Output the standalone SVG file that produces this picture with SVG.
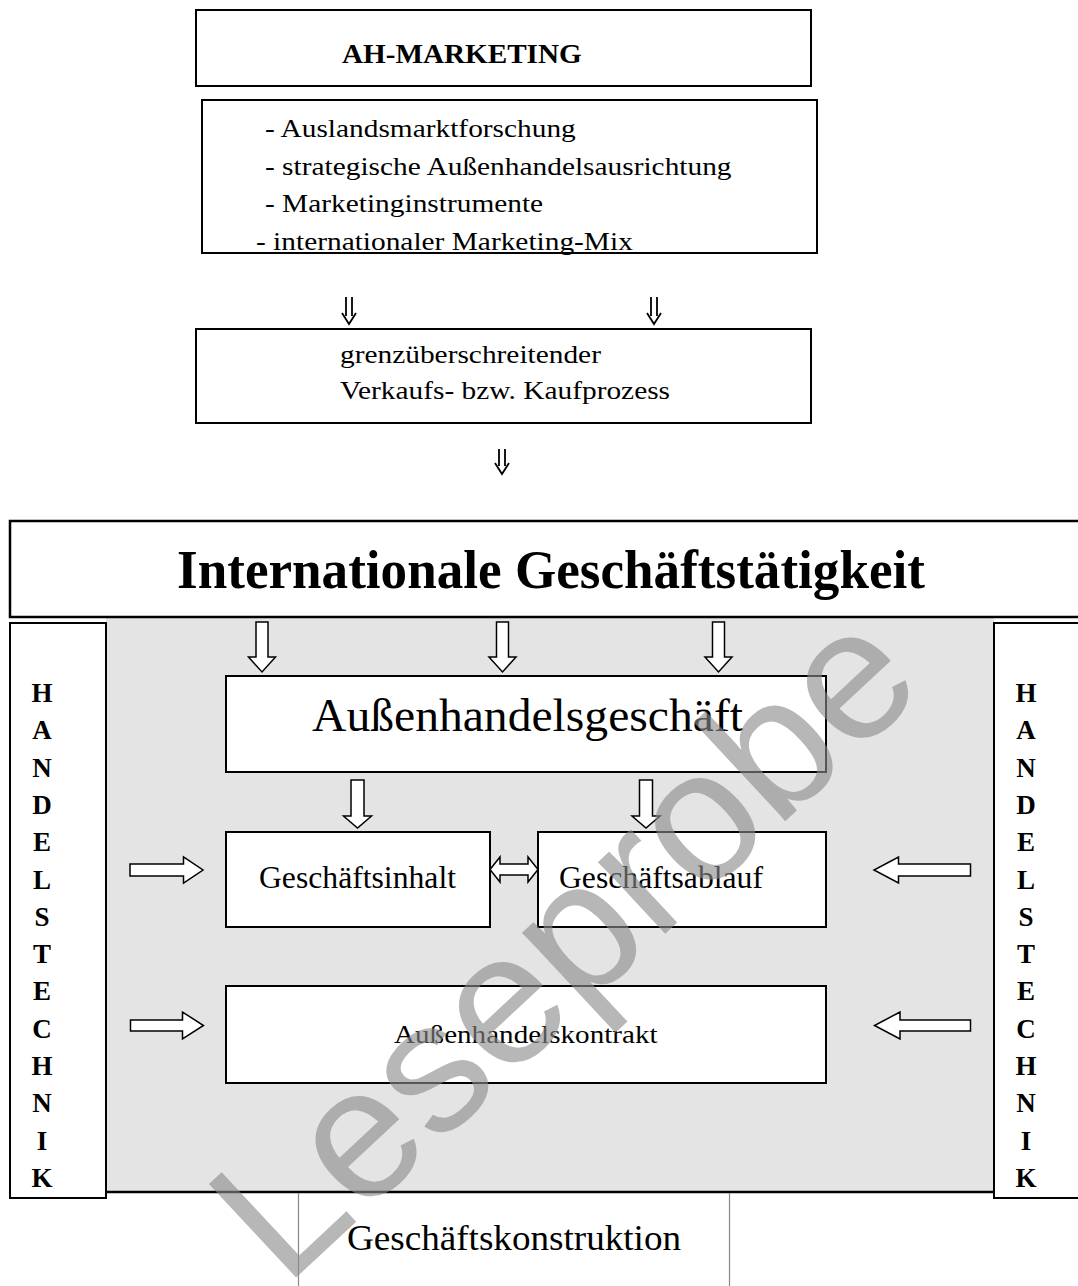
<svg xmlns="http://www.w3.org/2000/svg" width="1078" height="1286" viewBox="0 0 1078 1286">
<style>
.box{fill:#fff;stroke:#000;stroke-width:2}
.t{font-family:"Liberation Serif","Times New Roman",serif;fill:#000}
.b{font-weight:bold}
.harrow{fill:#fff;stroke:#000;stroke-width:1.5;stroke-linejoin:miter}
.dbl{fill:none;stroke:#000;stroke-width:1.8}
.side{font-family:"Liberation Serif","Times New Roman",serif;font-weight:bold;font-size:27px;text-anchor:middle}
</style>
<rect width="1078" height="1286" fill="#fff"/>

<g id="ah-marketing">
<rect class="box" x="196" y="10" width="615" height="76" stroke-width="2.5"/>
<text class="t b" transform="translate(342 63) scale(1.08 1)" font-size="27">AH-MARKETING</text>
</g>

<g id="marketing-list">
<rect class="box" x="202" y="100" width="615" height="153"/>
<text class="t" transform="translate(265 137) scale(1.13 1)" font-size="26">- Auslandsmarktforschung</text>
<text class="t" transform="translate(265 175) scale(1.13 1)" font-size="26">- strategische Außenhandelsausrichtung</text>
<text class="t" transform="translate(265 212) scale(1.13 1)" font-size="26">- Marketinginstrumente</text>
<text class="t" transform="translate(256 250) scale(1.13 1)" font-size="26">- internationaler Marketing-Mix</text>
</g>

<g id="prozess">
<rect class="box" x="196" y="329" width="615" height="94"/>
<text class="t" transform="translate(340 363) scale(1.13 1)" font-size="26">grenzüberschreitender</text>
<text class="t" transform="translate(340 399) scale(1.13 1)" font-size="26">Verkaufs- bzw. Kaufprozess</text>
</g>

<g id="geschaeftstaetigkeit">
<rect x="106" y="617" width="888" height="575" fill="#e4e4e4"/>
<path d="M1090 521 H10 V617 H1090" fill="none" stroke="#000" stroke-width="2.5"/>
<line x1="106" y1="1192" x2="995" y2="1192" stroke="#000" stroke-width="2.5"/>
<text class="t b" x="551" y="588" font-size="54" text-anchor="middle" textLength="748" lengthAdjust="spacingAndGlyphs">Internationale Geschäftstätigkeit</text>
</g>

<g id="handelstechnik-links">
<rect class="box" x="10" y="623" width="96" height="575"/>
<text class="side" x="42" y="702"><tspan x="42" y="702">H</tspan><tspan x="42" y="739.3">A</tspan><tspan x="42" y="776.6">N</tspan><tspan x="42" y="813.9">D</tspan><tspan x="42" y="851.2">E</tspan><tspan x="42" y="888.5">L</tspan><tspan x="42" y="925.8">S</tspan><tspan x="42" y="963.1">T</tspan><tspan x="42" y="1000.4">E</tspan><tspan x="42" y="1037.7">C</tspan><tspan x="42" y="1075">H</tspan><tspan x="42" y="1112.3">N</tspan><tspan x="42" y="1149.6">I</tspan><tspan x="42" y="1186.9">K</tspan></text>
</g>

<g id="handelstechnik-rechts">
<rect class="box" x="994" y="623" width="100" height="575"/>
<text class="side" x="1026" y="702"><tspan x="1026" y="702">H</tspan><tspan x="1026" y="739.3">A</tspan><tspan x="1026" y="776.6">N</tspan><tspan x="1026" y="813.9">D</tspan><tspan x="1026" y="851.2">E</tspan><tspan x="1026" y="888.5">L</tspan><tspan x="1026" y="925.8">S</tspan><tspan x="1026" y="963.1">T</tspan><tspan x="1026" y="1000.4">E</tspan><tspan x="1026" y="1037.7">C</tspan><tspan x="1026" y="1075">H</tspan><tspan x="1026" y="1112.3">N</tspan><tspan x="1026" y="1149.6">I</tspan><tspan x="1026" y="1186.9">K</tspan></text>
</g>

<g id="aussenhandelsgeschaeft">
<rect class="box" x="226" y="676" width="600" height="96"/>
<text class="t" x="312" y="731" font-size="47" textLength="431" lengthAdjust="spacingAndGlyphs">Außenhandelsgeschäft</text>
</g>

<g id="geschaeftsinhalt">
<rect class="box" x="226" y="832" width="264" height="95"/>
<text class="t" x="259" y="888" font-size="31" textLength="197" lengthAdjust="spacingAndGlyphs">Geschäftsinhalt</text>
</g>

<g id="geschaeftsablauf">
<rect class="box" x="538" y="832" width="288" height="95"/>
<text class="t" x="559" y="888" font-size="31" textLength="204" lengthAdjust="spacingAndGlyphs">Geschäftsablauf</text>
</g>

<g id="aussenhandelskontrakt">
<rect class="box" x="226" y="986" width="600" height="97"/>
<text class="t" transform="translate(394 1043) scale(1.12 1)" font-size="26">Außenhandelskontrakt</text>
</g>

<g id="geschaeftskonstruktion">
<path d="M298.5 1193 V1286 M729.5 1193 V1286" stroke="#888" stroke-width="1.2" fill="none"/>
<text class="t" x="347" y="1250" font-size="36" textLength="334" lengthAdjust="spacingAndGlyphs">Geschäftskonstruktion</text>
</g>

<g id="connectors">
<path class="dbl" d="M346 297 V316 M352 297 V316 M342 313 L349 324 L356 313"/>
<path class="dbl" d="M651 297 V316 M657 297 V316 M647 313 L654 324 L661 313"/>
<path class="dbl" d="M499 449 V466 M505 449 V466 M495 463 L502 474 L509 463"/>
<path class="harrow" d="M256 622 H268 V657 H275.5 L262 672 L248.5 657 H256 Z"/>
<path class="harrow" d="M496.5 622 H508.5 V657 H516 L502.5 672 L489 657 H496.5 Z"/>
<path class="harrow" d="M712.5 622 H724.5 V657 H732 L718.5 672 L705 657 H712.5 Z"/>
<path class="harrow" d="M351 780 H364 V816 H371.5 L357.5 828 L343.5 816 H351 Z"/>
<path class="harrow" d="M639.5 780 H652.5 V816 H660 L646 828 L632 816 H639.5 Z"/>
<path class="harrow" d="M490 869.5 L500 857 V864 H528 V857 L538 869.5 L528 882 V875 H500 V882 Z"/>
<path class="harrow" d="M130 864 H183.5 V857 L203 870 L183.5 883 V876 H130 Z"/>
<path class="harrow" d="M970.5 864 H898.5 V857 L874 870 L898.5 883 V876 H970.5 Z"/>
<path class="harrow" d="M130.5 1020 H182.5 V1012 L203.5 1025.5 L182.5 1039 V1031 H130.5 Z"/>
<path class="harrow" d="M970.5 1020 H900 V1012 L874.5 1025.5 L900 1039 V1031 H970.5 Z"/>
</g>

<text x="285" y="1288" transform="rotate(-43 285 1288)" font-family="Liberation Sans, Arial, sans-serif" font-size="186" fill="#8a8a8a" fill-opacity="0.62">Leseprobe</text>
</svg>
